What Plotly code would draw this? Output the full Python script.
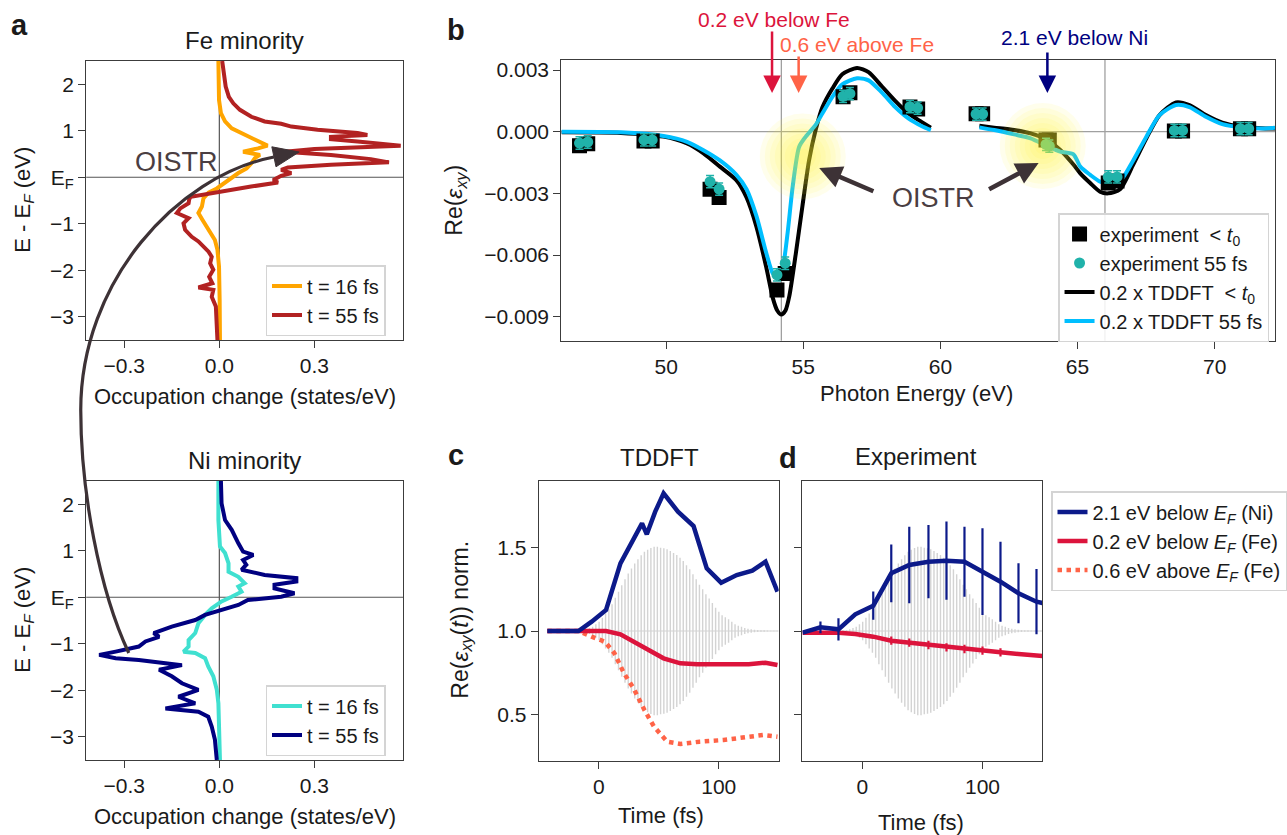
import plotly.graph_objects as go

W, H = 1287, 835
def PX(x): return x / W
def PY(y): return 1 - y / H

# ---------------- panel a : Fe minority ----------------
fe16_E = [2.5, 1.66, 1.38, 1.20, 1.05, 0.95, 0.84, 0.73, 0.68, 0.62, 0.55, 0.48, 0.41, 0.30, 0.19, 0.09,
          -0.02, -0.13, -0.24, -0.33, -0.45, -0.63, -0.77, -0.92, -1.13, -1.35, -1.56, -1.92, -2.64, -3.5]
fe16_occ = [-0.003, -0.001, 0.005, 0.018, 0.039, 0.070, 0.101, 0.133, 0.152, 0.122, 0.075, 0.128, 0.112, 0.101,
            0.086, 0.060, 0.039, 0.018, -0.008, -0.034, -0.050, -0.055, -0.066, -0.053, -0.034, -0.014, -0.006,
            -0.001, 0.001, 0.002]
fe55_E = [2.5, 2.24, 1.95, 1.73, 1.59, 1.45, 1.30, 1.20, 1.15, 1.09, 1.02, 0.95, 0.91, 0.87, 0.82, 0.77, 0.68,
          0.61, 0.55, 0.48, 0.39, 0.32, 0.27, 0.21, 0.16, 0.09, 0.03, -0.06, -0.115, -0.20, -0.31, -0.42, -0.47,
          -0.56, -0.67, -0.77, -0.88, -0.99, -1.13, -1.28, -1.38, -1.49, -1.60, -1.71, -1.85, -1.99, -2.14, -2.28,
          -2.37, -2.42, -2.57, -2.78, -3.07, -3.5]
fe55_occ = [0.009, 0.013, 0.020, 0.030, 0.044, 0.065, 0.101, 0.143, 0.195, 0.227, 0.310, 0.436, 0.467, 0.352,
            0.352, 0.436, 0.572, 0.300, 0.206, 0.352, 0.478, 0.535, 0.352, 0.216, 0.195, 0.227, 0.195, 0.170,
            0.185, 0.100, 0.000, -0.090, -0.095, -0.097, -0.123, -0.134, -0.097, -0.113, -0.108, -0.087, -0.066,
            -0.050, -0.034, -0.024, -0.029, -0.019, -0.032, -0.022, -0.066, -0.019, -0.024, -0.011, -0.008, -0.006]

# ---------------- panel a : Ni minority ----------------
ni16_E = [2.5, 1.66, 1.09, 0.95, 0.73, 0.55, 0.44, 0.30, 0.23, 0.12, 0.01, -0.09, -0.24, -0.38, -0.56, -0.77,
          -0.92, -1.06, -1.17, -1.20, -1.31, -1.49, -1.70, -1.99, -2.28, -3.5]
ni16_occ = [-0.003, -0.003, 0.002, 0.018, 0.029, 0.029, 0.060, 0.080, 0.060, 0.070, 0.039, 0.007, -0.024, -0.045,
            -0.066, -0.076, -0.097, -0.097, -0.113, -0.076, -0.045, -0.035, -0.019, -0.008, -0.003, 0.002]
ni55_E = [2.5, 2.02, 1.66, 1.45, 1.16, 0.98, 0.91, 0.80, 0.70, 0.59, 0.48, 0.41, 0.34, 0.27, 0.19, 0.086, 0.01,
          -0.06, -0.165, -0.27, -0.38, -0.49, -0.63, -0.77, -0.85, -0.95, -1.06, -1.17, -1.24, -1.31, -1.35,
          -1.46, -1.56, -1.70, -1.85, -1.99, -2.14, -2.28, -2.39, -2.46, -2.57, -2.78, -3.06, -3.5]
ni55_occ = [0.005, 0.007, 0.018, 0.039, 0.060, 0.075, 0.107, 0.075, 0.085, 0.070, 0.143, 0.243, 0.243, 0.174,
            0.174, 0.237, 0.195, 0.090, 0.060, 0.007, -0.045, -0.076, -0.150, -0.207, -0.190, -0.233, -0.254,
            -0.327, -0.379, -0.327, -0.254, -0.118, -0.190, -0.150, -0.118, -0.066, -0.129, -0.076, -0.170,
            -0.066, -0.035, -0.024, -0.014, -0.008]

# ---------------- panel b ----------------
tdpre_E1 = [46.18, 48.35, 49.9, 50.76, 51.36, 51.96, 52.56, 52.93, 53.29, 53.65, 53.89, 54.05, 54.2, 54.35,
            54.49, 54.73, 54.97, 55.21, 55.45, 55.7, 56.06, 56.42, 56.96, 57.38, 57.87, 58.35, 58.83, 59.31, 59.65]
tdpre_v1 = [-0.00003, -0.00006, -0.00024, -0.00057, -0.00105, -0.0017, -0.00236, -0.0032, -0.00462, -0.0066,
            -0.0081, -0.0087, -0.0089, -0.0087, -0.0080, -0.0059, -0.0036, -0.0014, 0.00008, 0.0012, 0.0021,
            0.0028, 0.0031, 0.0029, 0.0022, 0.0015, 0.00089, 0.00048, 0.0002]
td55_E1 = [46.18, 48.35, 49.9, 50.76, 51.36, 51.96, 52.56, 52.93, 53.29, 53.65, 53.89, 54.07, 54.25, 54.43,
           54.61, 54.85, 55.09, 55.45, 55.7, 56.06, 56.42, 56.96, 57.38, 57.87, 58.35, 58.83, 59.31, 59.65]
td55_v1 = [0.0, -0.00003, -0.00021, -0.00049, -0.0009, -0.0014, -0.0021, -0.0028, -0.0041, -0.0059, -0.0069,
           -0.0071, -0.0066, -0.0049, -0.0027, -0.00073, -0.00024, 0.00033, 0.0009, 0.0017, 0.0023, 0.0026,
           0.0025, 0.0019, 0.0012, 0.00065, 0.00028, 0.00008]
tdpre_E2 = [61.42, 61.96, 62.69, 63.29, 63.89, 64.37, 64.85, 65.1, 65.46, 65.82, 66.12, 66.55, 67.03, 67.51,
            67.99, 68.59, 69.08, 69.68, 70.28, 71.0, 71.85, 72.2]
tdpre_v2 = [0.00029, 0.0002, 0.00008, -0.00008, -0.0004, -0.00089, -0.0016, -0.00203, -0.0025, -0.00292,
            -0.0030, -0.0028, -0.0016, -0.00032, 0.00081, 0.00143, 0.0013, 0.00081, 0.00044, 0.00024, 0.00016,
            0.00016]
td55_E2 = [61.42, 61.96, 62.69, 63.29, 63.89, 64.37, 64.85, 65.1, 65.46, 65.82, 66.12, 66.55, 67.03, 67.51,
           67.99, 68.59, 69.08, 69.68, 70.28, 71.0, 71.85, 72.2]
td55_v2 = [0.00021, 0.00008, -0.00013, -0.00032, -0.0007, -0.00097, -0.0011, -0.0017, -0.0021, -0.00243,
           -0.0025, -0.0024, -0.0014, -0.00024, 0.00081, 0.0013, 0.0012, 0.00073, 0.00037, 0.00021, 0.00016,
           0.00019]

exp_E = [46.84, 47.14, 49.19, 49.49, 51.6, 51.93, 54.04, 54.34, 56.45, 56.7, 58.89, 59.17, 61.3, 61.54,
         63.85, 63.97, 66.12, 66.44, 68.53, 68.83, 70.94, 71.24]
exp_pre = [-0.00068, -0.00058, -0.00045, -0.00045, -0.0028, -0.0032, -0.0077, -0.0069, 0.0017, 0.0019,
           0.0012, 0.0011, 0.00088, 0.00088, -0.0004, -0.0004, -0.0025, -0.0024, 0.00003, 0.00003,
           0.00014, 0.00014]
exp_pre_err = [0.0002] * len(exp_E)
exp_55 = [-0.00055, -0.0005, -0.0004, -0.0004, -0.00243, -0.00279, -0.00697, -0.0064, 0.00172, 0.00185,
          0.00122, 0.00115, 0.00086, 0.00086, -0.00062, -0.0007, -0.0022, -0.0022, 0.00006, 0.00006,
          0.00015, 0.00015]
exp_55_err = [0.0003] * len(exp_E)

b_vlines = [54.2, 66.0]
glow_E = [54.98, 63.73]
glow_v = [-0.0012, -0.0007]
glow_sizes = [86, 76, 66, 56, 46, 36, 26, 16]

# ---------------- panels c, d ----------------
c_t_ni = [-43, -17, -6, 6, 18, 36, 40, 47, 54, 66, 79, 90, 102, 115, 128, 139, 149]
c_v_ni = [1.0, 1.0, 1.056, 1.126, 1.406, 1.646, 1.58, 1.716, 1.826, 1.716, 1.63, 1.376, 1.29, 1.336, 1.362,
          1.416, 1.236]
c_t_fe = [-43, -17, -6, 6, 18, 29, 40, 54, 68, 82, 112, 125, 139, 149]
c_v_fe = [1.0, 1.0, 1.006, 1.0, 0.98, 0.936, 0.89, 0.836, 0.806, 0.80, 0.80, 0.80, 0.81, 0.796]
c_t_fe_up = [-43, -17, -6, 5, 13, 21, 29, 38, 46, 57, 68, 84, 104, 123, 137, 149]
c_v_fe_up = [1.0, 1.0, 0.966, 0.936, 0.866, 0.746, 0.656, 0.526, 0.426, 0.336, 0.322, 0.336, 0.346, 0.36,
             0.376, 0.366]

d_t = [-50, -35, -20, -6, 9, 24, 39, 55, 70, 85, 100, 115, 130, 145, 150]
d_v_ni = [0.99, 1.022, 1.01, 1.10, 1.152, 1.346, 1.396, 1.416, 1.422, 1.416, 1.356, 1.296, 1.226, 1.176, 1.168]
d_e_ni = [0, 0.035, 0.067, 0, 0.085, 0.173, 0.23, 0.22, 0.235, 0.21, 0.26, 0.24, 0.18, 0.196, 0]
d_v_fe = [0.99, 0.992, 0.99, 0.982, 0.966, 0.942, 0.93, 0.916, 0.902, 0.892, 0.882, 0.872, 0.862, 0.853, 0.85]
d_e_fe = [0, 0, 0, 0, 0, 0.025, 0.025, 0.025, 0.025, 0.025, 0.025, 0.025, 0, 0, 0]

pulse_t = [-16, -13.3, -10.6, -7.9, -5.2, -2.5, 0.2, 2.9, 5.6, 8.3, 11, 13.7, 16.4, 19.1, 21.8, 24.5, 27.2,
           29.9, 32.6, 35.3, 38, 40.7, 43.4, 46.1, 48.8, 51.5, 54.2, 56.9, 59.6, 62.3, 65, 67.7, 70.4, 73.1,
           75.8, 78.5, 81.2, 83.9, 86.6, 89.3, 92, 94.7, 97.4, 100.1, 102.8, 105.5, 108.2, 110.9, 113.6,
           116.3, 119, 121.7, 124.4, 127.1, 129.8, 132.5, 135.2, 137.9, 140.6, 143.3, 146, 148.7]
pulse_amp = [0.003, 0.006, 0.01, 0.018, 0.026, 0.04, 0.056, 0.08, 0.105, 0.13, 0.16, 0.20, 0.235, 0.275, 0.31,
             0.345, 0.375, 0.405, 0.43, 0.455, 0.475, 0.488, 0.498, 0.505, 0.505, 0.5, 0.497, 0.49, 0.48,
             0.468, 0.456, 0.44, 0.42, 0.395, 0.37, 0.34, 0.31, 0.278, 0.25, 0.22, 0.195, 0.168, 0.14, 0.115,
             0.095, 0.083, 0.07, 0.055, 0.04, 0.032, 0.025, 0.018, 0.013, 0.01, 0.008, 0.006, 0.005, 0.004,
             0.003, 0.002, 0.002, 0.002]
pulse_base_t = [-17, 150]
pulse_base_v = [1.0, 1.0]

# ---------------- colours ----------------
C_ORANGE = '#FFA500'
C_FIRE = '#B22222'
C_TURQ = '#40E0D0'
C_NAVY = '#000080'
C_BLUE = '#0c1a8a'
C_CRIMSON = '#DC143C'
C_TOMATO = '#FF6347'
C_SKY = '#00BFFF'
C_TEAL = '#20B2AA'
C_ARC = '#3d3236'
C_PULSE = '#d3d3d3'

fig = go.Figure()

# panel a traces
fig.add_trace(go.Scatter(x=fe16_occ, y=fe16_E, mode='lines', line=dict(color=C_ORANGE, width=4),
                         name='t = 16 fs', legend='legend', xaxis='x', yaxis='y'))
fig.add_trace(go.Scatter(x=fe55_occ, y=fe55_E, mode='lines', line=dict(color=C_FIRE, width=4),
                         name='t = 55 fs', legend='legend', xaxis='x', yaxis='y'))
fig.add_trace(go.Scatter(x=ni16_occ, y=ni16_E, mode='lines', line=dict(color=C_TURQ, width=4),
                         name='t = 16 fs', legend='legend2', xaxis='x2', yaxis='y2'))
fig.add_trace(go.Scatter(x=ni55_occ, y=ni55_E, mode='lines', line=dict(color=C_NAVY, width=4),
                         name='t = 55 fs', legend='legend2', xaxis='x2', yaxis='y2'))

# panel b traces
SPL = dict(shape='spline', smoothing=0.7)
fig.add_trace(go.Scatter(x=tdpre_E1, y=tdpre_v1, mode='lines', line=dict(color='black', width=4, **SPL),
                         name='0.2 x TDDFT  &lt; <i>t</i><sub>0</sub>', legend='legend3', legendrank=3,
                         legendgroup='tdpre', xaxis='x3', yaxis='y3'))
fig.add_trace(go.Scatter(x=tdpre_E2, y=tdpre_v2, mode='lines', line=dict(color='black', width=4, **SPL),
                         showlegend=False, legend='legend3', legendgroup='tdpre', xaxis='x3', yaxis='y3'))
fig.add_trace(go.Scatter(x=td55_E1, y=td55_v1, mode='lines', line=dict(color=C_SKY, width=4, **SPL),
                         name='0.2 x TDDFT 55 fs', legend='legend3', legendrank=4, legendgroup='td55',
                         xaxis='x3', yaxis='y3'))
fig.add_trace(go.Scatter(x=td55_E2, y=td55_v2, mode='lines', line=dict(color=C_SKY, width=4, **SPL),
                         showlegend=False, legend='legend3', legendgroup='td55', xaxis='x3', yaxis='y3'))
fig.add_trace(go.Scatter(x=exp_E, y=exp_pre, mode='markers',
                         marker=dict(symbol='square', size=15, color='black'),
                         error_y=dict(type='data', array=exp_pre_err, color='black', thickness=1.5, width=4),
                         name='experiment  &lt; <i>t</i><sub>0</sub>', legend='legend3', legendrank=1,
                         xaxis='x3', yaxis='y3'))
fig.add_trace(go.Scatter(x=exp_E, y=exp_55, mode='markers',
                         marker=dict(symbol='circle', size=11, color=C_TEAL),
                         error_y=dict(type='data', array=exp_55_err, color=C_TEAL, thickness=1.5, width=4),
                         name='experiment 55 fs', legend='legend3', legendrank=2, xaxis='x3', yaxis='y3'))
for s in glow_sizes:
    fig.add_trace(go.Scatter(x=glow_E, y=glow_v, mode='markers',
                             marker=dict(size=s, color='rgba(255,248,40,0.09)', line=dict(width=0)),
                             showlegend=False, hoverinfo='skip', xaxis='x3', yaxis='y3'))

# pulse (c and d)
seg_x, seg_y = [], []
for t, a in zip(pulse_t, pulse_amp):
    seg_x += [t, t, None]
    seg_y += [1 - a, 1 + a, None]
for ax_x, ax_y in (('x4', 'y4'), ('x5', 'y5')):
    fig.add_trace(go.Scatter(x=pulse_base_t, y=pulse_base_v, mode='lines', line=dict(color=C_PULSE, width=1.2),
                             showlegend=False, hoverinfo='skip', xaxis=ax_x, yaxis=ax_y))
    fig.add_trace(go.Scatter(x=seg_x, y=seg_y, mode='lines', line=dict(color=C_PULSE, width=1.4),
                             showlegend=False, hoverinfo='skip', xaxis=ax_x, yaxis=ax_y))

# panel c
fig.add_trace(go.Scatter(x=c_t_fe_up, y=c_v_fe_up, mode='lines', line=dict(color=C_TOMATO, width=4.5, dash='dot'),
                         name='0.6 eV above <i>E</i><sub><i>F</i></sub> (Fe)', legend='legend4', legendrank=3,
                         xaxis='x4', yaxis='y4'))
fig.add_trace(go.Scatter(x=c_t_fe, y=c_v_fe, mode='lines', line=dict(color=C_CRIMSON, width=4.5),
                         name='0.2 eV below <i>E</i><sub><i>F</i></sub> (Fe)', legend='legend4', legendrank=2,
                         xaxis='x4', yaxis='y4'))
fig.add_trace(go.Scatter(x=c_t_ni, y=c_v_ni, mode='lines', line=dict(color=C_BLUE, width=4.5),
                         name='2.1 eV below <i>E</i><sub><i>F</i></sub> (Ni)', legend='legend4', legendrank=1,
                         xaxis='x4', yaxis='y4'))
# panel d
fig.add_trace(go.Scatter(x=d_t, y=d_v_fe, mode='lines', line=dict(color=C_CRIMSON, width=4.5),
                         error_y=dict(type='data', array=d_e_fe, color=C_CRIMSON, thickness=2.2, width=0),
                         showlegend=False, xaxis='x5', yaxis='y5'))
fig.add_trace(go.Scatter(x=d_t, y=d_v_ni, mode='lines', line=dict(color=C_BLUE, width=4.5),
                         error_y=dict(type='data', array=d_e_ni, color=C_BLUE, thickness=2.2, width=0),
                         showlegend=False, xaxis='x5', yaxis='y5'))

# ---------------- axes ----------------
AXC = '#3c3c3c'
TF = dict(family='Arial', size=21, color='#1a1a1a')
def axs(**kw):
    d = dict(showline=True, linecolor=AXC, linewidth=1.3, mirror=True, ticks='outside', ticklen=7,
             tickwidth=1.3, tickcolor=AXC, showgrid=False, zeroline=False, tickfont=TF, automargin=False,
             fixedrange=True)
    d.update(kw)
    return d

a_xdom = [PX(87), PX(407)]
a_xt = dict(range=[-0.42, 0.58], tickvals=[-0.3, 0.0, 0.3], tickformat='.1f')
a_yt = dict(range=[-3.5, 2.5], tickvals=[-3, -2, -1, 0, 1, 2],
            ticktext=['\u22123', '\u22122', '\u22121', 'E<sub>F</sub>', '1', '2'])
cd_x = dict(range=[-50, 150], tickvals=[0, 100])
cd_y = dict(range=[0.22, 1.9], tickvals=[0.5, 1.0, 1.5], tickformat='.1f')

fig.update_layout(
    width=W, height=H, margin=dict(l=0, r=0, t=0, b=0),
    paper_bgcolor='white', plot_bgcolor='white', template='none',
    font=dict(family='Arial', size=21, color='#1a1a1a'),
    xaxis=axs(domain=a_xdom, anchor='y', **a_xt),
    yaxis=axs(domain=[PY(340), PY(61)], anchor='x', **a_yt),
    xaxis2=axs(domain=a_xdom, anchor='y2', **a_xt),
    yaxis2=axs(domain=[PY(760), PY(481)], anchor='x2', **a_yt),
    xaxis3=axs(domain=[PX(566.7), 1.0], anchor='y3', range=[46.18, 72.2], tickvals=[50, 55, 60, 65, 70]),
    yaxis3=axs(domain=[PY(340.7), PY(60)], anchor='x3', range=[-0.01017, 0.00349],
               tickvals=[0.003, 0.0, -0.003, -0.006, -0.009], tickformat='.3f'),
    xaxis4=axs(domain=[PX(544), PX(786)], anchor='y4', **cd_x),
    yaxis4=axs(domain=[PY(761), PY(481)], anchor='x4', **cd_y),
    xaxis5=axs(domain=[PX(810), PX(1052.3)], anchor='y5', **cd_x),
    yaxis5=axs(domain=[PY(761), PY(481)], anchor='x5', showticklabels=False, **cd_y),
)

LEG = dict(xanchor='left', yanchor='top', bgcolor='rgba(255,255,255,0.85)', bordercolor='#d4d4d4',
           borderwidth=1.5, font=dict(family='Arial', size=20, color='#1a1a1a'), tracegroupgap=0)
fig.update_layout(
    legend=dict(x=PX(268), y=PY(265), **LEG),
    legend2=dict(x=PX(268), y=PY(685), **LEG),
    legend3=dict(x=PX(1068), y=PY(213), **LEG),
    legend4=dict(x=PX(1061), y=PY(491), **LEG),
)

# ---------------- reference lines ----------------
shapes = []
for xr, yr in (('x', 'y'), ('x2', 'y2')):
    shapes.append(dict(type='line', xref=xr, yref=yr + ' domain', x0=0, x1=0, y0=0, y1=1,
                       line=dict(color='#555555', width=1.2), layer='below'))
    shapes.append(dict(type='line', xref=xr + ' domain', yref=yr, x0=0, x1=1, y0=0, y1=0,
                       line=dict(color='#555555', width=1.2), layer='below'))
for e in b_vlines:
    shapes.append(dict(type='line', xref='x3', yref='y3 domain', x0=e, x1=e, y0=0, y1=1,
                       line=dict(color='#a0a0a0', width=1.3), layer='below'))
shapes.append(dict(type='line', xref='x3 domain', yref='y3', x0=0, x1=1, y0=0, y1=0,
                   line=dict(color='#a0a0a0', width=1.3), layer='below'))

# OISTR arc in panel a (pixel control points -> paper)
arc_px = [(130, 653), (100, 590), (81.5, 490), (81.5, 410), (81.5, 282), (178, 176), (276.5, 157)]
head_px = [(302, 152), (278.6, 166.8), (274.4, 146.8)]
def pp(p): return f'{PX(p[0]):.5f},{PY(p[1]):.5f}'
arc_path = ('M ' + pp(arc_px[0]) + ' C ' + pp(arc_px[1]) + ' ' + pp(arc_px[2]) + ' ' + pp(arc_px[3]) +
            ' C ' + pp(arc_px[4]) + ' ' + pp(arc_px[5]) + ' ' + pp(arc_px[6]))
shapes.append(dict(type='path', xref='paper', yref='paper', path=arc_path,
                   line=dict(color=C_ARC, width=3.2), fillcolor='rgba(0,0,0,0)'))
shapes.append(dict(type='path', xref='paper', yref='paper',
                   path='M ' + pp(head_px[0]) + ' L ' + pp(head_px[1]) + ' L ' + pp(head_px[2]) + ' Z',
                   line=dict(color=C_ARC, width=1), fillcolor=C_ARC))
fig.update_layout(shapes=shapes)

# ---------------- annotations ----------------
ann = []
def txt(x, y, s, size=21, color='#1a1a1a', angle=0, bold=False):
    ann.append(dict(x=PX(x), y=PY(y), xref='paper', yref='paper', text=('<b>%s</b>' % s) if bold else s,
                    showarrow=False, textangle=angle, xanchor='center', yanchor='middle',
                    font=dict(family='Arial', size=size, color=color)))

txt(20, 25, 'a', 29, bold=True)
txt(460, 30, 'b', 29, bold=True)
txt(460, 455, 'c', 29, bold=True)
txt(795, 458, 'd', 29, bold=True)
txt(247, 40, 'Fe minority', 24)
txt(247, 460, 'Ni minority', 24)
txt(666, 457, 'TDDFT', 24)
txt(925, 456, 'Experiment', 24)
txt(24, 200, 'E - E<sub><i>F</i></sub> (eV)', 22, angle=-90)
txt(24, 620, 'E - E<sub><i>F</i></sub> (eV)', 22, angle=-90)
txt(247, 396, 'Occupation change (states/eV)', 22)
txt(247, 816, 'Occupation change (states/eV)', 22)
txt(459, 200, 'Re(<i>\u03b5</i><sub><i>xy</i></sub>)', 23, angle=-90)
txt(925, 393, 'Photon Energy (eV)', 22)
txt(465, 620, 'Re(<i>\u03b5</i><sub><i>xy</i></sub>(<i>t</i>)) norm.', 23, angle=-90)
txt(667, 815, 'Time (fs)', 22)
txt(930, 822, 'Time (fs)', 22)
txt(178, 162, 'OISTR', 27, color='#4a3e42')
txt(942, 198, 'OISTR', 27, color='#4a3e42')
txt(781, 19, '0.2 eV below Fe', 21, color=C_CRIMSON)
txt(865, 45, '0.6 eV above Fe', 21, color=C_TOMATO)
txt(1085, 38, '2.1 eV below Ni', 21, color=C_NAVY)

# marker arrows on top of panel b
top_arrows = [(53.86, -63, C_CRIMSON), (54.83, -38, C_TOMATO), (63.9, -42, C_NAVY)]
for e, dy, col in top_arrows:
    ann.append(dict(x=e, y=PY(93), xref='x3', yref='paper', ax=0, ay=dy, axref='pixel', ayref='pixel',
                    text='', showarrow=True, arrowhead=2, arrowsize=1.4, arrowwidth=2.5, arrowcolor=col,
                    standoff=0))
# OISTR arrows in panel b
oistr_arrows = [((55.58, -0.00177), (57.61, -0.00293)), ((63.58, -0.00152), (61.72, -0.00284))]
for head, tail in oistr_arrows:
    ann.append(dict(x=head[0], y=head[1], xref='x3', yref='y3', ax=tail[0], ay=tail[1], axref='x3', ayref='y3',
                    text='', showarrow=True, arrowhead=2, arrowsize=1.0, arrowwidth=4.5, arrowcolor=C_ARC,
                    standoff=0))
fig.update_layout(annotations=ann)

fig.write_html('out.html')
